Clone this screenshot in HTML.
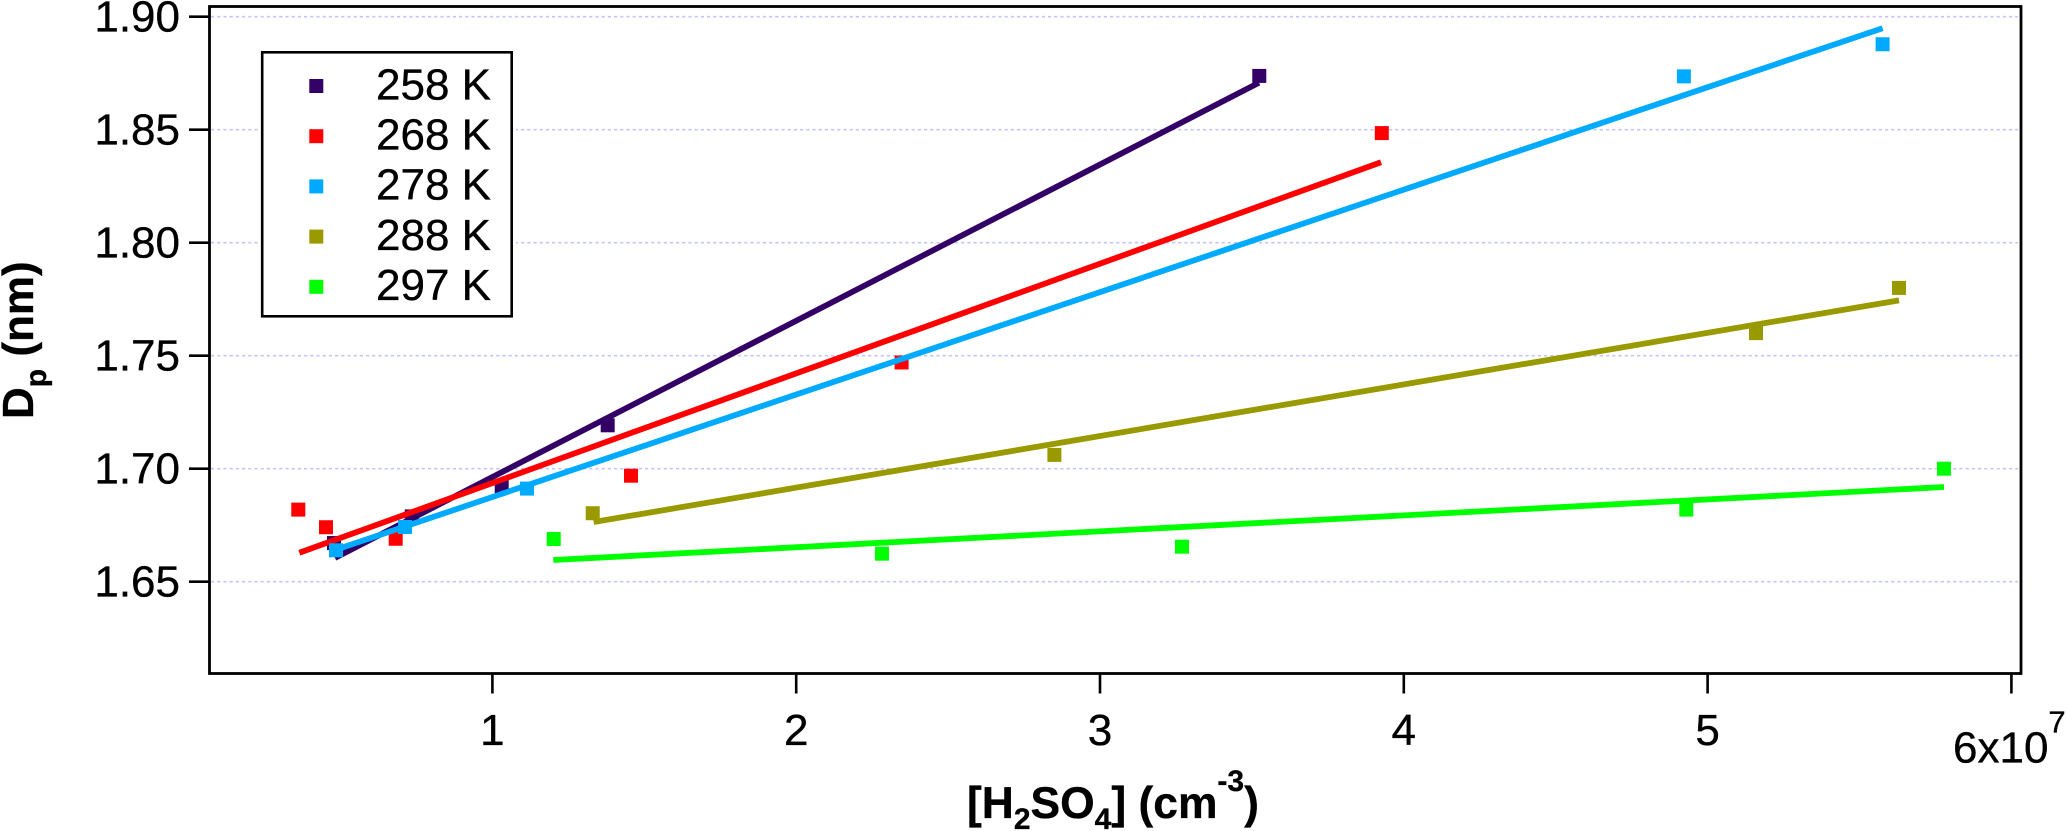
<!DOCTYPE html>
<html lang="en">
<head>
<meta charset="utf-8">
<title>Dp vs H2SO4</title>
<style>
html,body{margin:0;padding:0;background:#fff;}
svg{display:block;}
text{font-family:"Liberation Sans",Arial,sans-serif;fill:#000;stroke:#000;stroke-width:0.35px;}
</style>
</head>
<body>
<svg id="chart" xmlns="http://www.w3.org/2000/svg" width="2067" height="831" viewBox="0 0 2067 831">
  <rect x="0" y="0" width="2067" height="831" fill="#fff"/>
  <g id="grid"></g>
  <g id="series"></g>
  <rect x="209.5" y="6.5" width="1811.5" height="667" fill="none" stroke="#000" stroke-width="2.8"/>
  <g id="yaxis"></g>
  <g id="xaxis"></g>
  <text x="1953" y="762.5" font-size="44">6x10<tspan font-size="31" dy="-30">7</tspan></text>
  <text transform="translate(33,419) rotate(-90)" font-size="44" font-weight="bold">D<tspan font-size="30" dy="13">p</tspan><tspan dy="-13"> (nm)</tspan></text>
  <text x="967" y="818" font-size="44.4" font-weight="bold">[H<tspan font-size="30" dy="11">2</tspan><tspan dy="-11">SO</tspan><tspan font-size="30" dy="11">4</tspan><tspan dy="-11">] (cm</tspan><tspan font-size="30" dy="-27">-3</tspan><tspan dy="27">)</tspan></text>
  <g id="legend">
    <rect x="258" y="48" width="258" height="272" fill="#fff"/>
    <rect x="262.2" y="52.3" width="249.5" height="264" fill="#fff" stroke="#000" stroke-width="2.6"/>
  </g>
</svg>
<script>
var seriesLabels = ['258 K', '268 K', '278 K', '288 K', '297 K'];
var seriesColors = ['#330066', '#ff0000', '#00aaff', '#999900', '#00ff00'];

var conc258 = [0.4786, 0.7344, 1.0306, 1.3795, 3.5243];
var dp258 = [1.6671, 1.6789, 1.6922, 1.7192, 1.8738];
var fitConc258 = [0.4819, 3.5234];
var fitDp258 = [1.6605, 1.8708];

var conc268 = [0.3611, 0.4523, 0.6817, 1.4562, 2.3469, 3.9276];
var dp268 = [1.6819, 1.6741, 1.6690, 1.6969, 1.7470, 1.8485];
var fitConc268 = [0.3644, 3.9250];
var fitDp268 = [1.6628, 1.8356];

var conc278 = [0.4852, 0.7123, 1.1139, 4.9220, 5.5760];
var dp278 = [1.6639, 1.6742, 1.6912, 1.8736, 1.8878];
var fitConc278 = [0.4819, 5.5760];
var fitDp278 = [1.6640, 1.8949];

var conc288 = [1.3302, 2.8499, 5.1593, 5.6300];
var dp288 = [1.6803, 1.7061, 1.7600, 1.7800];
var fitConc288 = [1.3334, 5.6300];
var fitDp288 = [1.6764, 1.7745];

var conc297 = [1.2018, 2.2824, 3.2699, 4.9299, 5.7781];
var dp297 = [1.6689, 1.6624, 1.6655, 1.6819, 1.7000];
var fitConc297 = [1.2005, 5.7781];
var fitDp297 = [1.6596, 1.6919];

var yTicks = [1.65, 1.70, 1.75, 1.80, 1.85, 1.90];
var yTickLabels = ['1.65', '1.70', '1.75', '1.80', '1.85', '1.90'];
var xTicks = [1, 2, 3, 4, 5, 6];
var xTickLabels = ['1', '2', '3', '4', '5', ''];

var NS = 'http://www.w3.org/2000/svg';

function xScale(v) { return 492.4 + (v - 1) * 303.8; }
function yScale(v) { return 16.7 + (1.9 - v) * 2260; }

function make(tag, parent, props) {
  var el = document.createElementNS(NS, tag);
  for (var k in props) { el.setAttribute(k, props[k]); }
  parent.appendChild(el);
  return el;
}

var gridGroup = document.getElementById('grid');
var yAxisGroup = document.getElementById('yaxis');
var xAxisGroup = document.getElementById('xaxis');
var seriesGroup = document.getElementById('series');
var legendGroup = document.getElementById('legend');

yTicks.forEach(function (t, i) {
  var y = yScale(t);
  var g = make('line', gridGroup, { x1: 211, x2: 2018, y1: y, y2: y, stroke: '#c4c4ff', 'stroke-width': 1.6, 'stroke-dasharray': '3.2 3' });
  
  
  var tick = make('line', yAxisGroup, { x1: 189, x2: 209.5, y1: y, y2: y, stroke: '#000', 'stroke-width': 2.6 });
  
  
  var label = make('text', yAxisGroup, { x: 180, y: y + 15, 'text-anchor': 'end', 'font-size': 44 });
  
  
  label.textContent = yTickLabels[i];
});

xTicks.forEach(function (t, i) {
  var x = xScale(t);
  var tick = make('line', xAxisGroup, { x1: x, x2: x, y1: 673.3, y2: 693.5, stroke: '#000', 'stroke-width': 2.6 });
  
  
  if (xTickLabels[i]) {
    var label = make('text', xAxisGroup, { x: x, y: 745, 'text-anchor': 'middle', 'font-size': 44 });
    
    
    label.textContent = xTickLabels[i];
  }
});

var markerSize = 14;
var allConc = [conc258, conc268, conc278, conc288, conc297];
var allDp = [dp258, dp268, dp278, dp288, dp297];
var allFitConc = [fitConc258, fitConc268, fitConc278, fitConc288, fitConc297];
var allFitDp = [fitDp258, fitDp268, fitDp278, fitDp288, fitDp297];

seriesLabels.forEach(function (name, s) {
  var key = name.replace(' K', 'k');
  var group = make('g', seriesGroup, {});
  
  
  allConc[s].forEach(function (c, i) {
    var m = make('rect', group, {
      x: xScale(c) - markerSize / 2,
      y: yScale(allDp[s][i]) - markerSize / 2,
      width: markerSize,
      height: markerSize,
      fill: seriesColors[s]
    });
    
    
  });
  var pts = allFitConc[s].map(function (c, i) {
    return xScale(c) + ',' + yScale(allFitDp[s][i]);
  }).join(' ');
  var line = make('polyline', group, { points: pts, fill: 'none', stroke: seriesColors[s], 'stroke-width': 5.8 });
  
  

  var rowY = 86 + s * 50.2;
  var lm = make('rect', legendGroup, { x: 309.3, y: rowY - markerSize / 2, width: markerSize, height: markerSize, fill: seriesColors[s] });
  
  
  var lt = make('text', legendGroup, { x: 376, y: rowY + 13.3, 'font-size': 44 });
  
  
  lt.textContent = name;
});
</script>
</body>
</html>
